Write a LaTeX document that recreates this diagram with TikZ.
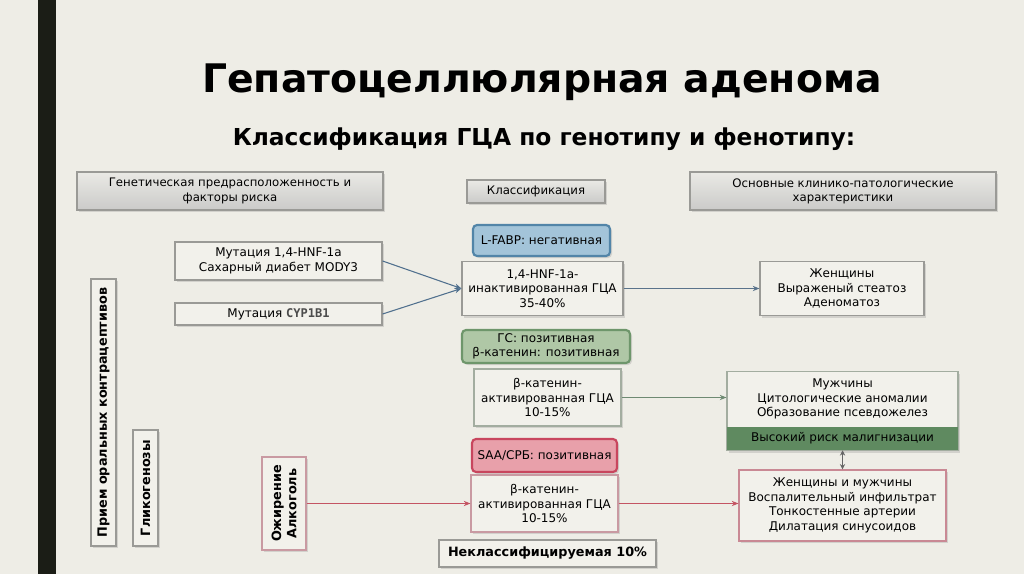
\documentclass[tikz,border=0pt]{standalone}
\usepackage{fontspec}
\setmainfont{DejaVu Sans}
\newfontfamily\monof{DejaVu Sans Mono}
\usetikzlibrary{arrows.meta,shadows,calc}
\definecolor{bg}{HTML}{EEEDE6}
\definecolor{bar}{HTML}{1B1D16}
\definecolor{boxfill}{HTML}{F2F1EB}
\definecolor{boxdraw}{HTML}{9A9A96}
\definecolor{headfill}{HTML}{DEDEDC}
\definecolor{blueFill}{HTML}{A3C4D9}
\definecolor{blueDraw}{HTML}{5285A8}
\definecolor{greenFill}{HTML}{AFC7A6}
\definecolor{greenDraw}{HTML}{6E966B}
\definecolor{redFill}{HTML}{E8A0AA}
\definecolor{redDraw}{HTML}{C8465E}
\definecolor{band}{HTML}{5F8A60}
\definecolor{arrBlue}{HTML}{50708E}
\definecolor{arrGreen}{HTML}{6E8A72}
\definecolor{arrRed}{HTML}{C45463}
\definecolor{pinkDraw}{HTML}{C99AA2}
\definecolor{sageDraw}{HTML}{A3ADA0}
\tikzset{
  wh/.style 2 args={minimum width=#1*0.75pt, minimum height=#2*0.75pt},
  basebox/.style={draw=boxdraw, fill=boxfill, line width=0.9pt, inner sep=0pt, align=center,
     font=\fontsize{9}{10.9}\selectfont,
     drop shadow={shadow xshift=1.5pt, shadow yshift=-1.5pt, opacity=0.25}},
  headbox/.style={basebox, fill=headfill, top color=boxfill!60!headfill, bottom color=headfill!90!black!95,
     font=\fontsize{8.8}{10.6}\selectfont},
  tagbox/.style={basebox, rounded corners=3pt, line width=1.6pt},
  conn/.style={-{Stealth[length=5pt,width=4pt]}, line width=0.8pt},
  vbox/.style={basebox, rotate=90, font=\bfseries\fontsize{9.6}{11.4}\selectfont}
}
\begin{document}
\begin{tikzpicture}[x=0.75pt,y=-0.75pt]
\fill[bg] (0,0) rectangle (1024,574);
\useasboundingbox (0,0) rectangle (1024,574);
\fill[bar] (38,0) rectangle (56,574);
% titles
\node[font=\bfseries\fontsize{29.5}{34}\selectfont, inner sep=0pt] (title) at (542,82) {Гепатоцеллюлярная аденома};
\node[font=\bfseries\fontsize{17.5}{21}\selectfont, inner sep=0pt] (subtitle) at (544,139) {Классификация ГЦА по генотипу и фенотипу:};
% column headers
\node[headbox, wh={306}{38}] (h1) at (230,191) {Генетическая предрасположенность и\\факторы риска};
\node[headbox, wh={138}{23}] (h2) at (536,191.5) {Классификация};
\node[headbox, wh={306}{38}] (h3) at (843,191) {Основные клинико-патологические\\характеристики};
% left column
\node[basebox, wh={207}{38}] (mut1) at (278.5,261) {Мутация 1,4-HNF-1a\\Сахарный диабет MODY3};
\node[basebox, wh={207}{22}] (mut2) at (278.5,314) {Мутация {\monof\bfseries\color{black!70}CYP1B1}};
\node[vbox, wh={267}{25}] (oc) at (103.5,412.5) {Прием оральных контрацептивов};
\node[vbox, wh={116}{25}] (gly) at (145.5,488) {Гликогенозы};
\node[vbox, wh={93}{44}, draw=pinkDraw] (ob) at (284,503.5) {Ожирение\\Алкоголь};
% middle column
\node[tagbox, wh={137}{31}, fill=blueFill, draw=blueDraw] (lfabp) at (541.5,240.5) {L-FABP: негативная};
\node[basebox, wh={161}{54}] (hnf) at (542.5,288.5) {1,4-HNF-1a-\\инактивированная ГЦА\\35-40\%};
\node[tagbox, wh={168}{33}, fill=greenFill, draw=greenDraw] (gc) at (546,346.5) {ГС: позитивная\\β-катенин: позитивная};
\node[basebox, wh={147}{57}, draw=sageDraw] (bcat1) at (547.5,397.5) {β-катенин-\\активированная ГЦА\\10-15\%};
\node[tagbox, wh={145}{33}, fill=redFill, draw=redDraw] (saa) at (544.5,455.5) {SAA/CPБ: позитивная};
\node[basebox, wh={147}{57}, draw=pinkDraw] (bcat2) at (544.5,503.5) {β-катенин-\\активированная ГЦА\\10-15\%};
\node[basebox, wh={217}{27}, font=\bfseries\fontsize{9.6}{11.4}\selectfont] (uncl) at (547.5,553.5) {Неклассифицируемая 10\%};
% right column
\node[basebox, wh={164}{54}] (wom) at (842,288.5) {Женщины\\Выраженый стеатоз\\Аденоматоз};
\node[basebox, wh={231}{79}, draw=sageDraw, anchor=north] (menbox) at (842.5,371) {};
\node[inner sep=0pt, wh={231}{56}, align=center, font=\fontsize{9}{10.9}\selectfont] (men) at (842.5,399) {Мужчины\\Цитологические аномалии\\Образование псевдожелез};
\node[fill=band, inner sep=0pt, wh={231}{23}, font=\fontsize{9}{10.9}\selectfont] (band) at (842.5,438.5) {Высокий риск малигнизации};
\node[basebox, wh={207}{71}, draw=pinkDraw!80!redDraw] (red) at (842.5,505.5) {Женщины и мужчины\\Воспалительный инфильтрат\\Тонкостенные артерии\\Дилатация синусоидов};
% connectors
\draw[conn, arrBlue] (mut1.east) -- (hnf.west);
\draw[conn, arrBlue] (mut2.east) -- (hnf.west);
\draw[conn, arrBlue!80!gray] (hnf.east) -- (wom.west);
\draw[conn, arrGreen] (bcat1.east) -- (menbox.west |- bcat1.east);
\draw[conn, arrRed] (ob.south) -- (bcat2.west |- ob.south);
\draw[conn, arrRed] (bcat2.east) -- (red.west |- bcat2.east);
\draw[{Stealth[length=4pt,width=4pt]}-{Stealth[length=4pt,width=4pt]}, line width=0.9pt, black!60] (band.south) -- (red.north);
\end{tikzpicture}
\end{document}
